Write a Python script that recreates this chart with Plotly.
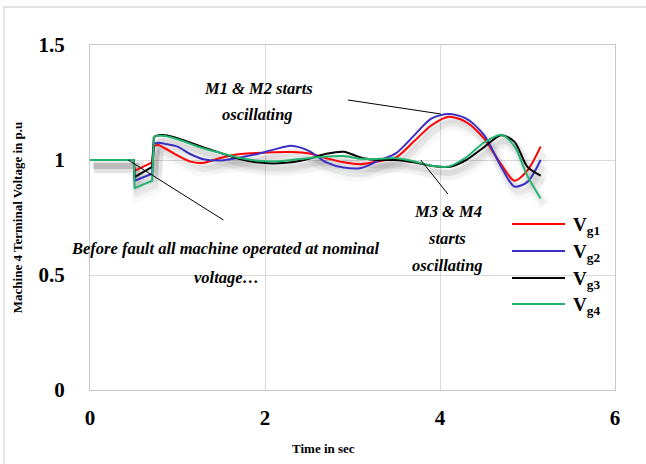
import plotly.graph_objects as go

# Simulation time (s)
time_s = [0.0, 0.50, 0.51, 0.71, 0.73, 0.78, 0.86, 1.0, 1.15, 1.3, 1.5, 1.7, 1.9, 2.1,
          2.3, 2.5, 2.7, 2.9, 3.1, 3.3, 3.5, 3.7, 3.9, 4.1, 4.3, 4.5, 4.7, 4.85, 5.0, 5.15]

# Terminal voltages (p.u.)
vg1 = [1.0, 1.0, 0.953, 0.99, 1.06, 1.065, 1.05, 1.02, 0.993, 0.988, 1.01, 1.025, 1.03, 1.034,
       1.035, 1.029, 1.008, 0.99, 0.982, 0.995, 1.012, 1.08, 1.15, 1.188, 1.165, 1.095, 0.98, 0.91, 0.955, 1.058]
vg2 = [1.0, 1.0, 0.91, 0.94, 1.07, 1.075, 1.07, 1.058, 1.025, 1.003, 0.998, 1.01, 1.025, 1.045,
       1.062, 1.04, 0.99, 0.967, 0.965, 0.997, 1.03, 1.105, 1.18, 1.2, 1.18, 1.11, 0.97, 0.885, 0.905, 1.0]
vg3 = [1.0, 1.0, 0.926, 0.97, 1.10, 1.108, 1.108, 1.095, 1.075, 1.055, 1.03, 1.005, 0.99, 0.985,
       0.99, 1.005, 1.027, 1.036, 1.01, 1.0, 1.0, 0.99, 0.975, 0.97, 1.0, 1.055, 1.108, 1.08, 0.97, 0.932]
vg4 = [1.0, 1.0, 0.878, 0.91, 1.10, 1.105, 1.104, 1.09, 1.07, 1.05, 1.03, 1.01, 0.998, 0.993,
       1.0, 1.008, 1.015, 1.017, 1.005, 1.005, 1.008, 0.995, 0.975, 0.972, 1.012, 1.075, 1.11, 1.06, 0.93, 0.833]

series_names = ["V<sub>g1</sub>", "V<sub>g2</sub>", "V<sub>g3</sub>", "V<sub>g4</sub>"]
series_colors = ["#ff0000", "#3a2fc4", "#000000", "#22b36e"]
series_values = [vg1, vg2, vg3, vg4]

x_ticks = [0, 2, 4, 6]
y_ticks = [0, 0.5, 1, 1.5]

SERIF = "Liberation Serif"
CLEAR = 4  # index of the first post-fault sample (fault cleared)

fig = go.Figure()


def add_curve(xs, ys, style):
    # fault interval drawn straight, post-fault swing smoothed
    fig.add_trace(go.Scatter(x=xs[:CLEAR + 1], y=ys[:CLEAR + 1], mode="lines",
                             line=dict(style, shape="linear"), hoverinfo="skip", showlegend=False))
    fig.add_trace(go.Scatter(x=xs[CLEAR:], y=ys[CLEAR:], mode="lines",
                             line=dict(style, shape="spline", smoothing=0.8),
                             hoverinfo="skip", showlegend=False))


# soft drop shadow under the curves
for vals in series_values:
    for w, a, dx, dy in [(12, 0.028, 0.045, 0.032), (6, 0.045, 0.035, 0.026)]:
        add_curve([t + dx for t in time_s], [v - dy for v in vals],
                  dict(color=f"rgba(0,0,0,{a})", width=w))

for col, vals in zip(series_colors, series_values):
    add_curve(time_s, vals, dict(color=col, width=2))

axis_font = dict(family=SERIF, size=21, color="#000000")
fig.update_xaxes(range=[0, 6], tickvals=x_ticks, ticktext=[f"<b>{v}</b>" for v in x_ticks],
                 showgrid=True, gridcolor="#d9d9d9", gridwidth=1.3, zeroline=False,
                 showline=True, linecolor="#c8c8c8", linewidth=1.3, mirror=True,
                 ticks="", tickfont=axis_font, ticklabelstandoff=9)
fig.update_yaxes(range=[0, 1.5], tickvals=y_ticks,
                 ticktext=["<b>0</b>", "<b>0.5</b>", "<b>1</b>", "<b>1.5</b>"],
                 showgrid=True, gridcolor="#d9d9d9", gridwidth=1.3, zeroline=False,
                 showline=True, linecolor="#c8c8c8", linewidth=1.3, mirror=True,
                 ticks="", tickfont=axis_font, ticklabelstandoff=20,
                 title=dict(text="<b>Machine 4 Terminal Voltage in p.u</b>",
                            font=dict(family=SERIF, size=13, color="#000000"), standoff=12))

note_font = dict(family=SERIF, size=16.5, color="#000000")
notes = [
    ("M1 &amp; M2 starts", 1.927, 1.313),
    ("oscillating", 1.917, 1.196),
    ("M3 &amp; M4", 4.094, 0.774),
    ("starts", 4.083, 0.657),
    ("oscillating", 4.083, 0.543),
    ("Before fault all machine operated at nominal", 1.548, 0.617),
    ("voltage\u2026", 1.56, 0.491),
]
for txt, x, y in notes:
    fig.add_annotation(x=x, y=y, xref="x", yref="y", text=f"<b><i>{txt}</i></b>",
                       showarrow=False, font=note_font, xanchor="center", yanchor="middle")

# pointer lines for the notes
pointers = [((2.947, 1.261), (4.01, 1.20)),
            ((3.78, 1.0), (4.09, 0.852)),
            ((0.436, 1.0), (1.525, 0.739))]
for (x0, y0), (x1, y1) in pointers:
    fig.add_shape(type="line", xref="x", yref="y", x0=x0, y0=y0, x1=x1, y1=y1,
                  line=dict(color="#000000", width=1))

# legend drawn beside the curves
L, T, W, H = 90, 45, 525, 345


def px(p):
    return (p - L) / W


def py(p):
    return (T + H - p) / H


legend_rows = [224, 251, 278, 304]
for name, col, row in zip(series_names, series_colors, legend_rows):
    fig.add_shape(type="line", xref="paper", yref="paper", x0=px(512), x1=px(565),
                  y0=py(row), y1=py(row), line=dict(color=col, width=2.2))
    fig.add_annotation(xref="paper", yref="paper", x=px(571), y=py(row + 2), text=f"<b>{name}</b>",
                       showarrow=False, xanchor="left", yanchor="middle",
                       font=dict(family=SERIF, size=19, color="#000000"))

# x-axis title, set slightly left of the plot centre
fig.add_annotation(xref="paper", yref="paper", x=px(323), y=py(448), text="<b>Time in sec</b>",
                   showarrow=False, xanchor="center", yanchor="middle",
                   font=dict(family=SERIF, size=13, color="#000000"))

# outer chart frame
fig.add_shape(type="rect", xref="paper", yref="paper", x0=px(4), x1=px(660), y0=py(480), y1=py(7),
              line=dict(color="#d9d9d9", width=1.3), layer="below")

fig.update_layout(width=646, height=464, margin=dict(l=L, r=646 - L - W, t=T, b=464 - T - H),
                  paper_bgcolor="#ffffff", plot_bgcolor="#ffffff", showlegend=False)

fig.write_html("out.html")
